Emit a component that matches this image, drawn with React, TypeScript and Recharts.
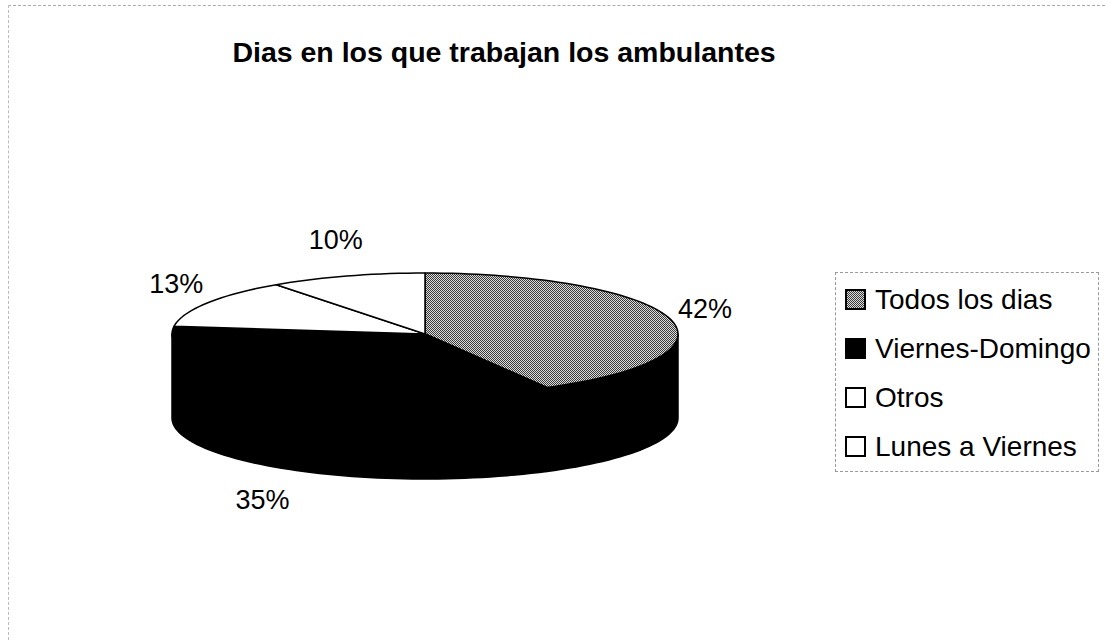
import React from 'react';
import { PieChart, Pie, Legend } from 'recharts';

// share of street vendors by working days (%)
const categories = ['Todos los dias', 'Viernes-Domingo', 'Otros', 'Lunes a Viernes'];
const shares = [42, 35, 13, 10];
const percentLabels = ['42%', '35%', '13%', '10%'];

const FONT = '"Liberation Sans", Arial, sans-serif';
const TILT = 0.241; // ry / rx of the flattened pie top
const DEPTH = 84; // thickness of the 3d wall
const topFill = ['url(#grayDots)', '#000', '#fff', '#fff'];
const sideFill = ['#000', '#000', '#fff', '#fff'];

const pieData = categories.map((name, i) => ({ name, value: shares[i], fill: topFill[i] }));

const RAD = Math.PI / 180;

function pt(cx: number, cy: number, rx: number, ry: number, a: number) {
  return [cx + rx * Math.cos(a * RAD), cy - ry * Math.sin(a * RAD)];
}

function arcPoints(cx: number, cy: number, rx: number, ry: number, from: number, to: number, dy = 0) {
  const n = Math.max(2, Math.ceil(Math.abs(to - from) / 2));
  const pts: string[] = [];
  for (let i = 0; i <= n; i++) {
    const a = from + ((to - from) * i) / n;
    const [x, y] = pt(cx, cy, rx, ry, a);
    pts.push(`${x.toFixed(2)},${(y + dy).toFixed(2)}`);
  }
  return pts;
}

const dotsPattern = (
  <defs>
    <pattern id="grayDots" width={2} height={2} patternUnits="userSpaceOnUse">
      <rect x={0} y={0} width={2} height={2} fill="#dcdcdc" />
      <rect x={0} y={0} width={1} height={1} fill="#3a3a3a" />
      <rect x={1} y={1} width={1} height={1} fill="#3a3a3a" />
    </pattern>
  </defs>
);

function SliceShape(props: any) {
  const { cx, cy, outerRadius, startAngle, endAngle } = props;
  const name = props.name ?? props.payload?.name;
  const i = Math.max(0, categories.indexOf(name));
  const rx = outerRadius;
  const ry = outerRadius * TILT;
  const top = `M${cx},${cy} L${arcPoints(cx, cy, rx, ry, startAngle, endAngle).join(' L')} Z`;
  const lo = Math.min(startAngle, endAngle);
  const hi = Math.max(startAngle, endAngle);
  const sides: string[] = [];
  for (const k of [-360, 0, 360]) {
    const s = Math.max(lo, -180 + k);
    const e = Math.min(hi, k);
    if (e > s) {
      const upper = arcPoints(cx, cy, rx, ry, s, e);
      const lower = arcPoints(cx, cy, rx, ry, e, s, DEPTH);
      sides.push(`M${upper.join(' L')} L${lower.join(' L')} Z`);
    }
  }
  return (
    <g>
      {i === 0 && dotsPattern}
      {sides.map((d, j) => (
        <path key={j} d={d} fill={sideFill[i]} stroke="#000" strokeWidth={1.5} strokeLinejoin="round" />
      ))}
      <path d={top} fill={topFill[i]} stroke="#000" strokeWidth={1.5} strokeLinejoin="round" />
    </g>
  );
}

function renderLabel(props: any) {
  const { cx, cy, midAngle, outerRadius } = props;
  const name = props.name ?? props.payload?.name;
  const i = Math.max(0, categories.indexOf(name));
  const rx = outerRadius + 36;
  const ry = outerRadius * TILT + 38;
  let [x, y] = pt(cx, cy, rx, ry, midAngle);
  if (Math.sin(midAngle * RAD) < 0) y += DEPTH;
  return (
    <text x={x} y={y} textAnchor="middle" dominantBaseline="central" fontSize={27} fontFamily={FONT} fill="#000">
      {percentLabels[i]}
    </text>
  );
}

function LegendBox() {
  return (
    <div
      style={{
        boxSizing: 'border-box',
        width: 264,
        height: 200,
        border: '1px dashed #999',
        paddingLeft: 9,
        paddingTop: 2,
        fontFamily: FONT,
        fontSize: 28,
        color: '#000',
      }}
    >
      {categories.map((name, i) => (
        <div key={name} style={{ height: 49, display: 'flex', alignItems: 'center' }}>
          <svg width={21} height={21} style={{ marginRight: 9, flex: 'none' }}>
            {i === 0 && dotsPattern}
            <rect x={1} y={1} width={19} height={19} fill={topFill[i]} stroke="#000" strokeWidth={2} />
          </svg>
          <span style={{ whiteSpace: 'nowrap' }}>{name}</span>
        </div>
      ))}
    </div>
  );
}

export default function App() {
  return (
    <div style={{ position: 'absolute', left: 0, top: 0, width: 1105, height: 640, background: '#fff' }}>
      <div
        style={{
          position: 'absolute',
          left: 8,
          top: 5,
          right: 0,
          bottom: 0,
          borderTop: '1px dashed #aaa',
          borderLeft: '1px dashed #bbb',
        }}
      />
      <div
        style={{
          position: 'absolute',
          left: 0,
          top: 36,
          width: 1008,
          textAlign: 'center',
          fontFamily: FONT,
          fontWeight: 'bold',
          fontSize: 28.5,
          color: '#000',
        }}
      >
        Dias en los que trabajan los ambulantes
      </div>
      <PieChart width={1105} height={640} style={{ position: 'absolute', left: 0, top: 0 }}>
        <Pie
          data={pieData}
          dataKey="value"
          nameKey="name"
          cx={420}
          cy={329}
          outerRadius={253}
          startAngle={90}
          endAngle={-270}
          shape={SliceShape}
          label={renderLabel}
          labelLine={false}
          isAnimationActive={false}
        />
        <Legend
          layout="vertical"
          align="right"
          verticalAlign="top"
          content={LegendBox}
          wrapperStyle={{ left: 835, top: 272, width: 264, right: 'auto' }}
        />
      </PieChart>
    </div>
  );
}
